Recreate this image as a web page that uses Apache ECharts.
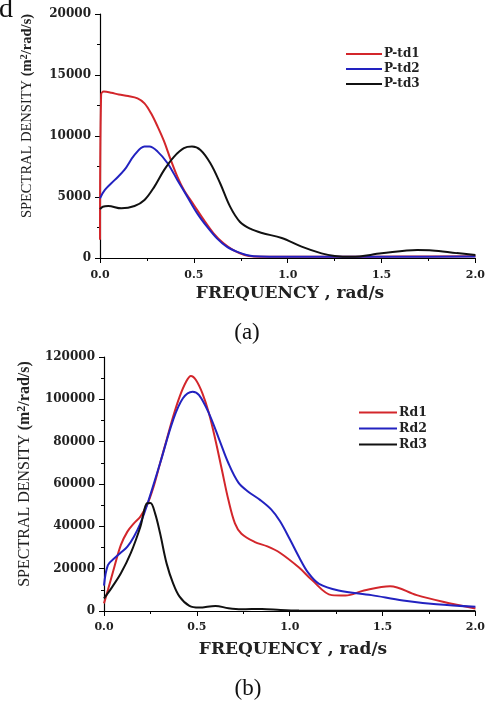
<!DOCTYPE html>
<html><head><meta charset="utf-8">
<script src="https://cdn.jsdelivr.net/npm/echarts@6/dist/echarts.min.js"></script>
<style>html,body{margin:0;padding:0;background:#fff}#c{width:488px;height:704px}</style>
</head><body><div id="c"></div>
<script>
// ---- data (frequency rad/s, spectral density) ----
const xTicks = [0, 0.5, 1.0, 1.5, 2.0];
const namesA = ['P-td1', 'P-td2', 'P-td3'];
const namesB = ['Rd1', 'Rd2', 'Rd3'];

const ptd1 = [[0,1500],[0.006,13400],[0.02,13640],[0.06,13550],[0.1,13400],[0.15,13280],[0.2,13090],[0.237,12680],[0.272,11860],[0.307,10770],[0.342,9540],[0.377,8040],[0.412,6670],[0.447,5580],[0.5,4350],[0.553,3120],[0.605,2020],[0.658,1200],[0.71,650],[0.77,250],[0.82,130],[1.0,100],[1.3,100],[1.6,120],[2.0,150]];
const ptd2 = [[0,4890],[0.026,5580],[0.079,6400],[0.13,7220],[0.184,8450],[0.237,9130],[0.263,9130],[0.307,8720],[0.36,7770],[0.412,6400],[0.465,5030],[0.518,3660],[0.57,2570],[0.623,1610],[0.675,930],[0.728,520],[0.78,250],[0.82,150],[1.0,100],[1.3,100],[1.6,100],[2.0,120]];
const ptd3 = [[0,4000],[0.015,4200],[0.044,4260],[0.114,4070],[0.184,4260],[0.237,4750],[0.29,5850],[0.342,7220],[0.395,8310],[0.447,9000],[0.49,9130],[0.535,8860],[0.588,7770],[0.64,6130],[0.693,4210],[0.746,2950],[0.8,2400],[0.863,2050],[0.968,1640],[1.074,930],[1.18,380],[1.25,170],[1.34,100],[1.5,380],[1.69,650],[1.77,620],[1.9,400],[2.0,250]];

const rd1 = [[0,3600],[0.021,9900],[0.056,20900],[0.091,31200],[0.126,37500],[0.161,41400],[0.196,44600],[0.232,50100],[0.267,58700],[0.302,69800],[0.337,80800],[0.372,91800],[0.407,101200],[0.442,108300],[0.468,111000],[0.495,109100],[0.53,102800],[0.565,93400],[0.6,80800],[0.635,66600],[0.67,52400],[0.705,41400],[0.74,36500],[0.81,32700],[0.88,30500],[0.947,27500],[1.05,20500],[1.12,14600],[1.226,7500],[1.3,7300],[1.4,9700],[1.54,11700],[1.684,7500],[1.825,4400],[2.0,1200]];
const rd2 = [[0,12000],[0.021,21700],[0.056,24900],[0.091,27600],[0.126,30400],[0.161,35100],[0.196,41400],[0.232,50100],[0.302,69800],[0.372,90200],[0.425,100500],[0.477,103600],[0.512,102000],[0.565,93400],[0.618,81600],[0.67,69800],[0.723,60800],[0.775,56500],[0.842,52400],[0.9,48000],[0.947,42500],[1.0,34000],[1.05,25500],[1.1,18000],[1.158,12800],[1.263,9700],[1.44,7500],[1.61,5000],[1.79,3200],[2.0,2000]];
const rd3 = [[0,6000],[0.039,10700],[0.091,17800],[0.144,27300],[0.196,39800],[0.232,50900],[0.25,51000],[0.275,46100],[0.302,36700],[0.337,22500],[0.372,13100],[0.407,6800],[0.46,2400],[0.512,1600],[0.6,2400],[0.67,1300],[0.74,800],[0.85,1000],[0.95,500],[1.05,200],[1.3,100],[1.6,80],[2.0,50]];

const colors = ['#d3262b', '#2222c0', '#111111'];
const serif = '"Liberation Serif","Times New Roman",serif';
const wide = '"DejaVu Serif",serif';

const chart = echarts.init(document.getElementById('c'), null, {renderer: 'canvas'});

function xAx(gi, labelMargin) {
  return {
    type: 'value', gridIndex: gi, min: 0, max: 2, interval: 0.5,
    axisLine: {show: true, lineStyle: {color: '#000', width: 1.2}},
    axisTick: {show: true, length: 5, lineStyle: {color: '#000'}},
    minorTick: {show: true, splitNumber: 2, length: 3, lineStyle: {color: '#000'}},
    splitLine: {show: false},
    axisLabel: {color: '#222', fontFamily: wide, fontWeight: 'bold', fontSize: 11, margin: labelMargin,
      formatter: v => v.toFixed(1)}
  };
}
function yAx(gi, max, interval) {
  return {
    type: 'value', gridIndex: gi, min: 0, max: max, interval: interval,
    axisLine: {show: true, lineStyle: {color: '#000', width: 1.2}},
    axisTick: {show: true, length: 5, lineStyle: {color: '#000'}},
    minorTick: {show: true, splitNumber: 2, length: 3, lineStyle: {color: '#000'}},
    splitLine: {show: false},
    axisLabel: {color: '#222', fontFamily: wide, fontWeight: 'bold', fontSize: 12, margin: 9,
      formatter: v => String(v)}
  };
}
function line(name, data, color, xi, yi) {
  return {name: name, type: 'line', data: data, xAxisIndex: xi, yAxisIndex: yi,
    symbol: 'none', smooth: 0.35, lineStyle: {color: color, width: 2}, itemStyle: {color: color},
    z: 3};
}

const yTitleRich = (fs) => ({
  a: {fontFamily: serif, fontSize: fs, fontWeight: 'normal', fill: '#222'},
  b: {fontFamily: serif, fontSize: fs, fontWeight: 'bold', fill: '#222'},
  s: {fontFamily: serif, fontSize: fs - 4, fontWeight: 'bold', fill: '#222', verticalAlign: 'top', padding: [0,0,6,0]}
});

const option = {
  animation: false,
  backgroundColor: '#fff',
  grid: [
    {left: 100, right: 8, top: 14, height: 244},
    {left: 104, right: 4, top: 357, height: 254}
  ],
  xAxis: [xAx(0, 12), xAx(1, 11)],
  yAxis: [yAx(0, 20000, 5000), yAx(1, 120000, 20000)],
  legend: [
    {data: namesA, orient: 'vertical', left: 341, top: 43, itemWidth: 36, itemHeight: 2, itemGap: 3,
      icon: 'rect', textStyle: {fontFamily: wide, fontWeight: 'bold', fontSize: 12, color: '#222', padding: [0,0,0,-3]}},
    {data: namesB, orient: 'vertical', left: 354, top: 401, itemWidth: 38, itemHeight: 2, itemGap: 3,
      icon: 'rect', textStyle: {fontFamily: wide, fontWeight: 'bold', fontSize: 12.5, color: '#222', padding: [0,0,0,-3]}}
  ],
  series: [
    line(namesA[0], ptd1, colors[0], 0, 0),
    line(namesA[1], ptd2, colors[1], 0, 0),
    line(namesA[2], ptd3, colors[2], 0, 0),
    line(namesB[0], rd1, colors[0], 1, 1),
    line(namesB[1], rd2, colors[1], 1, 1),
    line(namesB[2], rd3, colors[2], 1, 1)
  ],
  graphic: [
    {type: 'text', left: -1, top: -4, style: {text: 'd', font: '28px ' + serif, fill: '#111'}},
    {type: 'text', x: 27, y: 116, rotation: Math.PI / 2,
      style: {text: '{a|SPECTRAL DENSITY }{b|(m}{s|2}{b|/rad/s)}', rich: yTitleRich(14.5), align: 'center', verticalAlign: 'middle'}},
    {type: 'text', x: 25, y: 474, rotation: Math.PI / 2,
      style: {text: '{a|SPECTRAL DENSITY }{b|(m}{s|2}{b|/rad/s)}', rich: yTitleRich(16), align: 'center', verticalAlign: 'middle'}},
    {type: 'text', x: 290, y: 294, style: {text: 'FREQUENCY , rad/s', font: 'bold 17px ' + wide, fill: '#222', align: 'center', verticalAlign: 'middle'}},
    {type: 'text', x: 293, y: 650, style: {text: 'FREQUENCY , rad/s', font: 'bold 17px ' + wide, fill: '#222', align: 'center', verticalAlign: 'middle'}},
    {type: 'text', x: 247, y: 333, style: {text: '(a)', font: '23px ' + serif, fill: '#111', align: 'center', verticalAlign: 'middle'}},
    {type: 'text', x: 248, y: 689, style: {text: '(b)', font: '23px ' + serif, fill: '#111', align: 'center', verticalAlign: 'middle'}}
  ]
};
chart.setOption(option);
</script>
</body></html>
